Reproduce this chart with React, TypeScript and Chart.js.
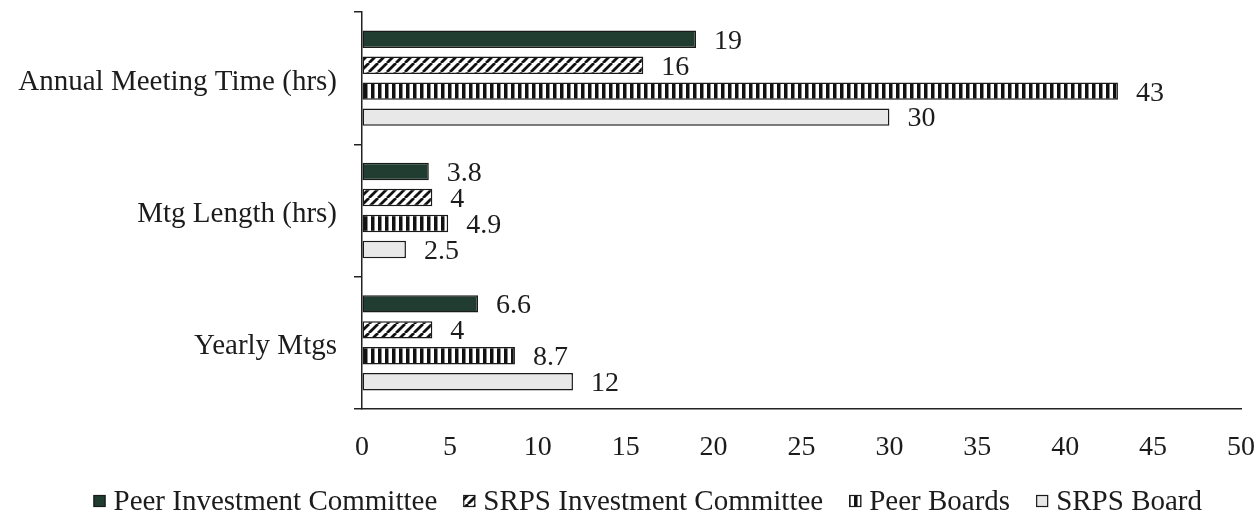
import React, { useEffect, useRef } from "react";
import { Chart, registerables } from "chart.js";

Chart.register(...registerables);

// ---- data ----
const categories = ["Annual Meeting Time (hrs)", "Mtg Length (hrs)", "Yearly Mtgs"];
const seriesNames = [
  "Peer Investment Committee",
  "SRPS Investment Committee",
  "Peer Boards",
  "SRPS Board",
];
const peerInvestmentCommittee = [19, 3.8, 6.6];
const srpsInvestmentCommittee = [16, 4, 4];
const peerBoards = [43, 4.9, 8.7];
const srpsBoard = [30, 2.5, 12];
const xAxisMin = 0;
const xAxisMax = 50;
const xAxisStep = 5;

const FONT = '"Liberation Serif", "Times New Roman", serif';
const INK = "#1c1c1c";

// ---- fills ----
function diagonalHatch(): CanvasPattern {
  const p = 9;
  const c = document.createElement("canvas");
  c.width = p;
  c.height = p;
  const g = c.getContext("2d")!;
  g.fillStyle = "#ffffff";
  g.fillRect(0, 0, p, p);
  g.strokeStyle = "#111111";
  g.lineWidth = 2.8;
  g.beginPath();
  for (const x0 of [-p, 0, p]) {
    g.moveTo(x0, p);
    g.lineTo(x0 + p, 0);
  }
  g.stroke();
  return g.createPattern(c, "repeat")!;
}

function verticalStripes(): CanvasPattern {
  const c = document.createElement("canvas");
  c.width = 7;
  c.height = 4;
  const g = c.getContext("2d")!;
  g.fillStyle = "#ffffff";
  g.fillRect(0, 0, 7, 4);
  g.fillStyle = "#111111";
  g.fillRect(0, 0, 3.5, 4);
  return g.createPattern(c, "repeat")!;
}

// value labels at the end of each bar
const valueLabels = {
  id: "valueLabels",
  afterDatasetsDraw(chart: any) {
    const ctx: CanvasRenderingContext2D = chart.ctx;
    ctx.save();
    ctx.font = `28px ${FONT}`;
    ctx.fillStyle = INK;
    ctx.textAlign = "left";
    ctx.textBaseline = "middle";
    chart.data.datasets.forEach((ds: any, i: number) => {
      const meta = chart.getDatasetMeta(i);
      meta.data.forEach((bar: any, j: number) => {
        ctx.fillText(String(ds.data[j]), bar.x + 18, bar.y + 2);
      });
    });
    ctx.restore();
  },
};

// legend row under the axis
const bottomLegend = {
  id: "bottomLegend",
  afterDraw(chart: any) {
    const ctx: CanvasRenderingContext2D = chart.ctx;
    ctx.save();
    ctx.font = `29px ${FONT}`;
    const box = 12;
    const gap = 8;
    const spacing = 26;
    const items = chart.data.datasets.map((ds: any) => ({
      label: ds.label as string,
      fill: ds.backgroundColor,
      stroke: ds.borderColor,
      w: ctx.measureText(ds.label).width,
    }));
    const total =
      items.reduce((s: number, it: any) => s + box + gap + it.w, 0) +
      spacing * (items.length - 1);
    let x = 1202 - total;
    const baseline = 510;
    ctx.textBaseline = "alphabetic";
    ctx.textAlign = "left";
    items.forEach((it: any) => {
      const top = baseline - box - 3;
      ctx.fillStyle = it.fill;
      ctx.fillRect(x, top, box, box);
      ctx.strokeStyle = it.stroke;
      ctx.lineWidth = 1.2;
      ctx.strokeRect(x + 0.5, top + 0.5, box - 1, box - 1);
      ctx.fillStyle = INK;
      ctx.fillText(it.label, x + box + gap, baseline);
      x += box + gap + it.w + spacing;
    });
    ctx.restore();
  },
};

export default function App() {
  const canvasRef = useRef<HTMLCanvasElement | null>(null);

  useEffect(() => {
    const canvas = canvasRef.current;
    if (!canvas) return;
    const fills = ["#213c31", diagonalHatch(), verticalStripes(), "#e8e8e8"];
    const values = [peerInvestmentCommittee, srpsInvestmentCommittee, peerBoards, srpsBoard];

    const chart = new Chart(canvas, {
      type: "bar",
      data: {
        labels: categories,
        datasets: seriesNames.map((name, i) => ({
          label: name,
          data: values[i],
          backgroundColor: fills[i] as any,
          borderColor: "#1a1a1a",
          borderWidth: 1.5,
          borderSkipped: false,
          categoryPercentage: 0.785,
          barPercentage: 0.67,
        })),
      },
      options: {
        indexAxis: "y",
        responsive: false,
        animation: false,
        layout: { padding: { top: 12, right: 18, left: 0, bottom: 46 } },
        plugins: {
          legend: { display: false },
          tooltip: { enabled: false },
        },
        scales: {
          x: {
            min: xAxisMin,
            max: xAxisMax,
            ticks: {
              stepSize: xAxisStep,
              color: INK,
              font: { family: FONT, size: 28 },
              padding: 22,
            },
            grid: { display: true, drawOnChartArea: false, drawTicks: false },
            border: { display: true, color: "#222222", width: 1.5 },
            afterFit: (scale: any) => {
              scale.height = 60;
              scale.paddingLeft = 0;
              scale.paddingRight = 0;
            },
          },
          y: {
            ticks: {
              color: INK,
              font: { family: FONT, size: 29 },
              padding: 17,
              labelOffset: 4,
            },
            grid: {
              display: true,
              offset: true,
              drawOnChartArea: false,
              drawTicks: true,
              tickLength: 8,
              color: "#222222",
              lineWidth: 1.5,
            },
            border: { display: true, color: "#222222", width: 1.5 },
            afterFit: (scale: any) => {
              scale.width = 362;
              scale.paddingTop = 0;
              scale.paddingBottom = 0;
            },
          },
        },
      },
      plugins: [valueLabels, bottomLegend],
    });

    return () => chart.destroy();
  }, []);

  return (
    <div
      style={{
        position: "absolute",
        left: 0,
        top: 0,
        width: 1259,
        height: 515,
        background: "#ffffff",
      }}
    >
      <canvas ref={canvasRef} width={1259} height={515} style={{ display: "block" }} />
    </div>
  );
}
